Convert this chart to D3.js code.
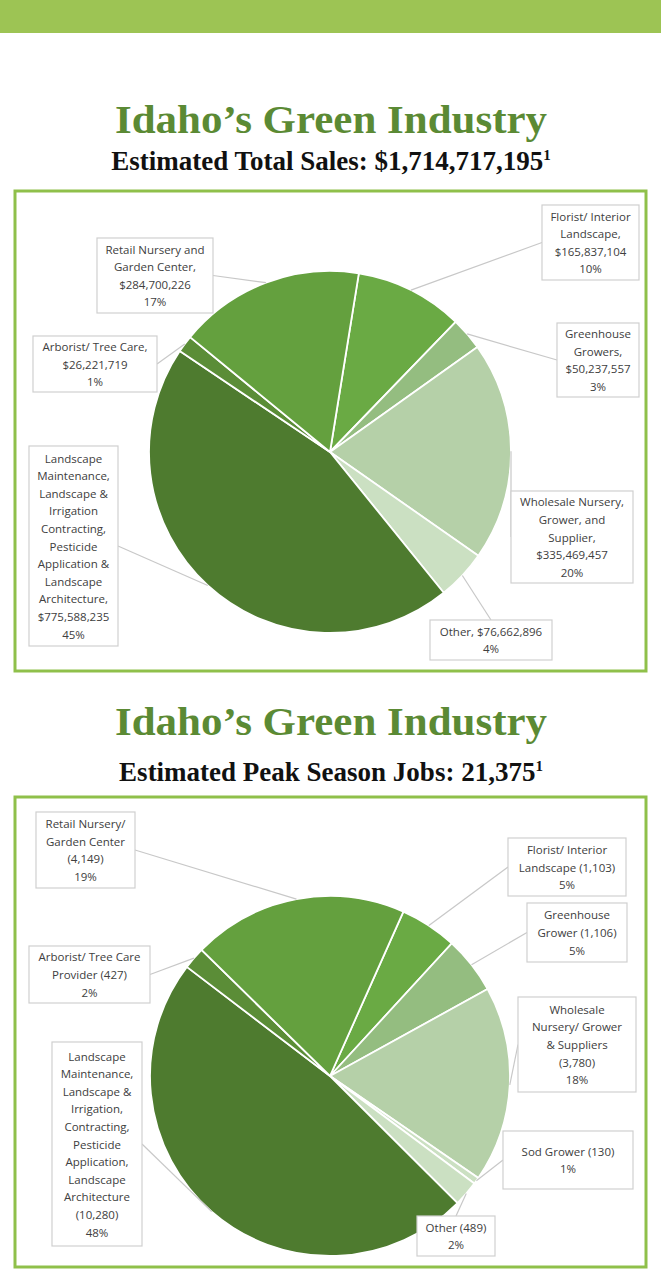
<!DOCTYPE html>
<html><head><meta charset="utf-8">
<script src="https://cdn.jsdelivr.net/npm/d3@7"></script>
<style>body{margin:0;background:#fff}</style></head>
<body><svg id="c" width="661" height="1280"></svg>
<script>
// ---- data ----
const salesCategories = ["Florist/ Interior Landscape","Greenhouse Growers","Wholesale Nursery, Grower, and Supplier","Other","Landscape Maintenance, Landscape & Irrigation Contracting, Pesticide Application & Landscape Architecture","Arborist/ Tree Care","Retail Nursery and Garden Center"];
const salesValues = [165837104, 50237557, 335469457, 76662896, 775588235, 26221719, 284700226];
const salesLabels = [
  ["Florist/ Interior","Landscape,","$165,837,104","10%"],
  ["Greenhouse","Growers,","$50,237,557","3%"],
  ["Wholesale Nursery,","Grower, and","Supplier,","$335,469,457","20%"],
  ["Other, $76,662,896","4%"],
  ["Landscape","Maintenance,","Landscape &","Irrigation","Contracting,","Pesticide","Application &","Landscape","Architecture,","$775,588,235","45%"],
  ["Arborist/ Tree Care,","$26,221,719","1%"],
  ["Retail Nursery and","Garden Center,","$284,700,226","17%"]
];
const jobsCategories = ["Florist/ Interior Landscape","Greenhouse Grower","Wholesale Nursery/ Grower & Suppliers","Sod Grower","Other","Landscape Maintenance, Landscape & Irrigation, Contracting, Pesticide Application, Landscape Architecture","Arborist/ Tree Care Provider","Retail Nursery/ Garden Center"];
const jobsValues = [1103, 1106, 3780, 130, 489, 10280, 427, 4149];
const jobsLabels = [
  ["Florist/ Interior","Landscape (1,103)","5%"],
  ["Greenhouse","Grower (1,106)","5%"],
  ["Wholesale","Nursery/ Grower","& Suppliers","(3,780)","18%"],
  ["Sod Grower (130)","1%"],
  ["Other (489)","2%"],
  ["Landscape","Maintenance,","Landscape &","Irrigation,","Contracting,","Pesticide","Application,","Landscape","Architecture","(10,280)","48%"],
  ["Arborist/ Tree Care","Provider (427)","2%"],
  ["Retail Nursery/","Garden Center","(4,149)","19%"]
];
const salesColors = ["#6aaa44","#94bd80","#b5d0a8","#cbe0c2","#4e7b2f","#5b8d37","#64a03e"];
const jobsColors  = ["#6aaa44","#94bd80","#b5d0a8","#cbe0c2","#cbe0c2","#4e7b2f","#5b8d37","#64a03e"];

// ---- layout ----
const svg = d3.select("#c");
svg.append("rect").attr("x",0).attr("y",0).attr("width",661).attr("height",33).attr("fill","#9dc454");

function titles(y1,y2,sub){
  svg.append("text").attr("x",331).attr("y",y1).attr("text-anchor","middle")
    .attr("font-family","Liberation Serif, serif").attr("font-weight","bold").attr("font-size",40)
    .attr("fill","#5b8a34").attr("textLength",432).attr("lengthAdjust","spacingAndGlyphs").text("Idaho’s Green Industry");
  const t = svg.append("text").attr("x",331).attr("y",y2).attr("text-anchor","middle")
    .attr("font-family","Liberation Serif, serif").attr("font-weight","bold").attr("font-size",27).attr("fill","#111");
  t.append("tspan").text(sub);
  t.append("tspan").attr("font-size",15).attr("dy",-10).text("1");
}
titles(133,170,"Estimated Total Sales: $1,714,717,195");
titles(735,781,"Estimated Peak Season Jobs: 21,375");

function chart(box, cx, cy, r, start, values, colors, labels, boxes){
  svg.append("rect").attr("x",box[0]).attr("y",box[1]).attr("width",box[2]).attr("height",box[3])
    .attr("fill","none").attr("stroke","#8fc04a").attr("stroke-width",3);
  const pie = d3.pie().sort(null).startAngle(start).endAngle(start+2*Math.PI);
  const arcs = pie(values);
  const arc = d3.arc().innerRadius(0).outerRadius(r);
  const g = svg.append("g").attr("transform",`translate(${cx},${cy})`);
  g.selectAll("path").data(arcs).join("path").attr("d",arc)
    .attr("fill",(d,i)=>colors[i]).attr("stroke","#fff").attr("stroke-width",1.8);
  arcs.forEach((a,i)=>{
    const b = boxes[i]; // [x,y,w,h]
    const m = (a.startAngle+a.endAngle)/2;
    const px = cx + r*Math.sin(m), py = cy - r*Math.cos(m);
    let ax, ay;
    if (b[0] > cx + 60 && b[1]+b[3] < cy + 200 && b[0]+b[2]/2 > cx+150) { ax=b[0]; ay=b[1]+b[3]/2; }
    else if (b[0] + b[2] < cx - 100) { ax=b[0]+b[2]; ay=b[1]+b[3]/2; }
    else if (b[1] > cy) { ax=b[0]+b[2]/2; ay=b[1]; }
    else { ax=b[0]; ay=b[1]+b[3]/2; }
    svg.append("line").attr("x1",ax).attr("y1",ay).attr("x2",px).attr("y2",py)
      .attr("stroke","#c8c8c8").attr("stroke-width",1.2);
    svg.append("rect").attr("x",b[0]).attr("y",b[1]).attr("width",b[2]).attr("height",b[3])
      .attr("fill","#fff").attr("stroke","#d0d0d0").attr("stroke-width",1.2);
    const lines = labels[i], lh = 17.6;
    const y0 = b[1] + b[3]/2 - (lines.length-1)*lh/2 + 4.5;
    const t = svg.append("text").attr("text-anchor","middle").attr("font-family","Open Sans, sans-serif")
      .attr("font-size",11.5).attr("fill","#404040");
    lines.forEach((l,k)=>t.append("tspan").attr("x",b[0]+b[2]/2).attr("y",y0+k*lh).text(l));
  });
}
chart([15,191,631,480], 330, 452, 181, 0.16, salesValues, salesColors, salesLabels,
  [[542,205,97,75],[557,323,82,74],[511,491,122,92],[430,620,122,40],[29,446,89,200],[33,336,124,56],[97,238,116,75]]);
chart([15,797,631,470], 330, 1076, 180, 0.42, jobsValues, jobsColors, jobsLabels,
  [[508,838,118,58],[527,903,100,59],[518,997,118,95],[503,1131,130,58],[417,1216,78,40],[52,1042,90,204],[29,946,121,57],[36,812,99,76]]);
</script></body></html>
